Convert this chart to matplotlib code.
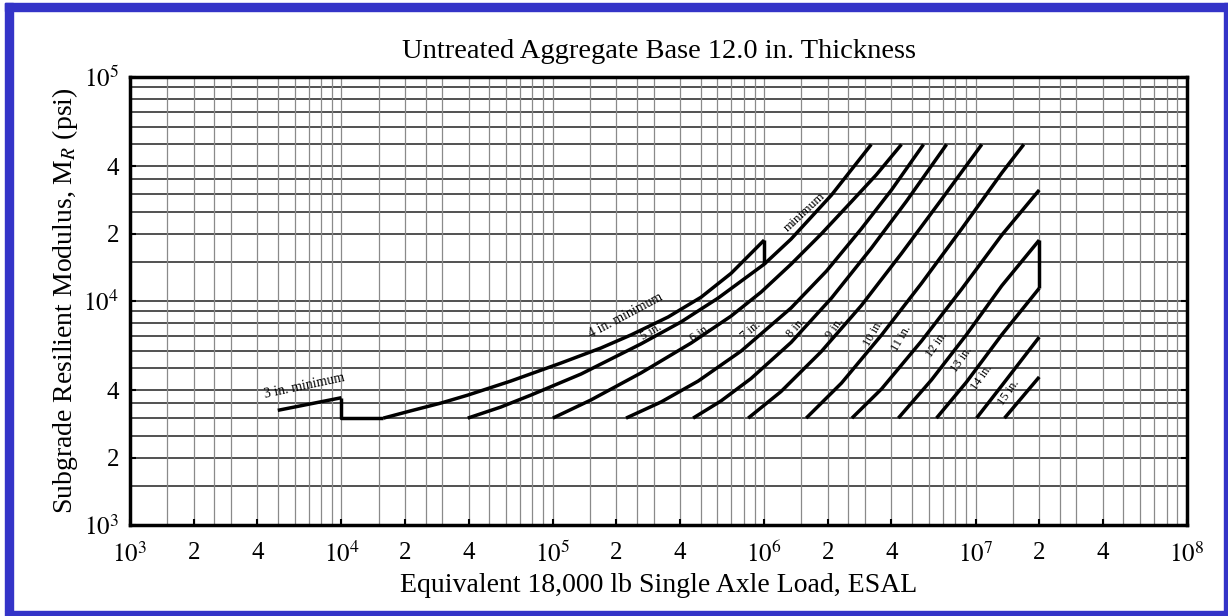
import matplotlib.pyplot as plt
from matplotlib.patches import Rectangle

plt.rcParams['font.family'] = ['Liberation Serif', 'DejaVu Serif']
plt.rcParams['mathtext.fontset'] = 'stix'

# Minimum asphalt thickness lines: ESAL vs subgrade resilient modulus (psi)
esal_3in = [5.0e3, 1.0e4]
mr_3in = [3250, 3700]

esal_4in = [1.58e4, 2.12e4, 2.95e4, 3.96e4, 6.32e4, 1.09e5, 1.69e5, 2.34e5, 3.51e5, 5.03e5, 6.98e5, 1.0e6]
mr_4in = [3000, 3230, 3500, 3800, 4390, 5280, 6170, 7050, 8480, 10400, 13300, 18700]

esal_5in = [3.96e4, 5.67e4, 7.87e4, 1.36e5, 2.61e5, 4.04e5, 6.05e5, 1.0e6, 1.34e6, 2.08e6, 3.21e6]
mr_5in = [3000, 3360, 3800, 4720, 6430, 8060, 10300, 14600, 18900, 29700, 50000]

esal_6in = [1.0e5, 1.51e5, 2.61e5, 4.51e5, 6.98e5, 9.68e5, 1.34e6, 1.86e6, 2.58e6, 3.40e6, 4.46e6]
mr_6in = [3000, 3610, 4770, 6490, 8570, 10970, 14600, 19900, 27700, 36700, 50000]

esal_7in = [2.22e5, 3.25e5, 4.87e5, 7.78e5, 1.34e6, 1.97e6, 2.88e6, 4.0e6, 5.67e6]
mr_7in = [3000, 3540, 4390, 5980, 9310, 13600, 21000, 31300, 50000]

esal_8in = [4.61e5, 6.25e5, 8.67e5, 1.34e6, 2.08e6, 3.21e6, 4.71e6, 7.29e6]
mr_8in = [3000, 3580, 4510, 6530, 10300, 17200, 27900, 50000]

esal_9in = [8.4e5, 1.2e6, 1.86e6, 2.88e6, 4.46e6, 6.9e6, 1.07e7]
mr_9in = [3000, 3940, 5940, 9540, 16300, 28400, 50000]

esal_10in = [1.58e6, 2.32e6, 3.59e6, 5.55e6, 8.59e6, 1.33e7, 1.69e7]
mr_10in = [3000, 4300, 7050, 12000, 21000, 37300, 50000]

esal_11in = [2.6e6, 3.59e6, 5.55e6, 8.59e6, 1.33e7, 2.0e7]
mr_11in = [3000, 4050, 6630, 11300, 19700, 31300]

esal_12in = [4.31e6, 6.18e6, 9.06e6, 1.33e7, 2.0e7]
mr_12in = [3000, 4440, 7080, 11700, 18700]

esal_13in = [6.53e6, 9.06e6, 1.33e7, 2.0e7]
mr_13in = [3000, 4350, 7070, 11400]

esal_14in = [1.01e7, 1.33e7, 2.0e7]
mr_14in = [3000, 4190, 6900]

esal_15in = [1.37e7, 2.0e7]
mr_15in = [3000, 4580]

curve_labels = ["3 in. minimum", "4 in. minimum", "minimum", "5 in.", "6 in.", "7 in.",
                "8 in.", "9 in.", "10 in.", "11 in.", "12 in.", "13 in.", "14 in.", "15 in."]
label_esal = [6.7e3, 2.22e5, 1.55e6, 2.91e5, 5.02e5, 8.67e5,
              1.42e6, 2.15e6, 3.29e6, 4.46e6, 6.53e6, 8.59e6, 1.07e7, 1.43e7]
label_mr = [4175, 8570, 24900, 7280, 7200, 7350,
            7570, 7570, 7200, 6840, 6370, 5460, 4530, 3920]
label_rot = [12, 28, 43, 30, 35, 40, 48, 55, 60, 60, 55, 55, 55, 55]
label_size = [10, 10, 9.5, 9, 9, 9, 9, 9, 9, 9, 9, 9, 9, 9]

x_ticks = [1e3, 2e3, 4e3, 1e4, 2e4, 4e4, 1e5, 2e5, 4e5, 1e6, 2e6, 4e6, 1e7, 2e7, 4e7, 1e8]
x_ticklabels = ["$10^3$", "2", "4", "$10^4$", "2", "4", "$10^5$", "2", "4",
                "$10^6$", "2", "4", "$10^7$", "2", "4", "$10^8$"]
y_ticks = [1e3, 2e3, 4e3, 1e4, 2e4, 4e4, 1e5]
y_ticklabels = ["$10^3$", "2", "4", "$10^4$", "2", "4", "$10^5$"]

grid_steps = [1, 1.5, 2, 2.5, 3, 3.5, 4, 5, 6, 7, 8, 9]

W, H = 1228, 616
fig = plt.figure(figsize=(W / 100, H / 100), dpi=100)
fig.patch.set_facecolor('white')

# blue frame around the page
blue = '#3434c8'
for (x0, y0, w, h) in [(5, 3, 8, 608), (5, 3, 1223, 8), (1224, 3, 4, 613), (5, 611, 1223, 5)]:
    fig.patches.append(Rectangle((x0 / W, 1 - (y0 + h) / H), w / W, h / H,
                                 transform=fig.transFigure, color=blue, zorder=0))

ax = fig.add_axes([130 / W, 1 - 525 / H, (1187 - 130) / W, (525 - 77) / H])
ax.set_xscale('log')
ax.set_yscale('log')
ax.set_xlim(1e3, 1e8)
ax.set_ylim(1e3, 1e5)

# chart paper grid
for k in [3, 4]:
    for s in grid_steps:
        v = s * 10 ** k
        if 1e3 < v < 1e5:
            ax.axhline(v, color='#222222', lw=1.1, zorder=1)
for k in [3, 4, 5, 6, 7]:
    for s in grid_steps:
        if s == 3.5:
            continue
        v = s * 10 ** k
        if 1e3 < v < 1e8:
            ax.axvline(v, color='#8a8a8a', lw=0.9, zorder=1)

line_kw = dict(color='black', lw=2.5, solid_capstyle='butt', solid_joinstyle='round', zorder=3)
ax.plot(esal_3in, mr_3in, **line_kw)
ax.plot([esal_3in[-1], esal_3in[-1], esal_4in[0]], [mr_3in[-1], mr_4in[0], mr_4in[0]], **line_kw)
ax.plot(esal_4in, mr_4in, **line_kw)
ax.plot([esal_4in[-1], esal_4in[-1]], [mr_4in[-1], mr_5in[7]], **line_kw)
for xs, ys in [(esal_5in, mr_5in), (esal_6in, mr_6in), (esal_7in, mr_7in),
               (esal_8in, mr_8in), (esal_9in, mr_9in), (esal_10in, mr_10in),
               (esal_11in, mr_11in), (esal_12in, mr_12in), (esal_13in, mr_13in),
               (esal_14in, mr_14in), (esal_15in, mr_15in)]:
    ax.plot(xs, ys, **line_kw)
ax.plot([esal_12in[-1], esal_12in[-1]], [mr_12in[-1], mr_13in[-1]], **line_kw)

for txt, x, y, r, fs in zip(curve_labels, label_esal, label_mr, label_rot, label_size):
    ax.text(x, y, txt, rotation=r, fontsize=fs, ha='center', va='center',
            rotation_mode='anchor', zorder=4)

ax.set_xticks(x_ticks)
ax.set_xticklabels(x_ticklabels)
ax.set_yticks(y_ticks)
ax.set_yticklabels(y_ticklabels)
ax.minorticks_off()
ax.tick_params(axis='both', which='major', direction='in', length=4, width=1.5,
               labelsize=18, right=True, top=False)
ax.tick_params(axis='x', pad=12)
ax.tick_params(axis='y', pad=8)
for sp in ax.spines.values():
    sp.set_linewidth(2.5)

ax.set_xlabel("Equivalent 18,000 lb Single Axle Load, ESAL", fontsize=20, labelpad=4)
ax.set_ylabel("Subgrade Resilient Modulus, M$_R$ (psi)", fontsize=20, labelpad=2)
ax.set_title("Untreated Aggregate Base 12.0 in. Thickness", fontsize=20.5, pad=14)

fig.savefig('out.png', dpi=100)
